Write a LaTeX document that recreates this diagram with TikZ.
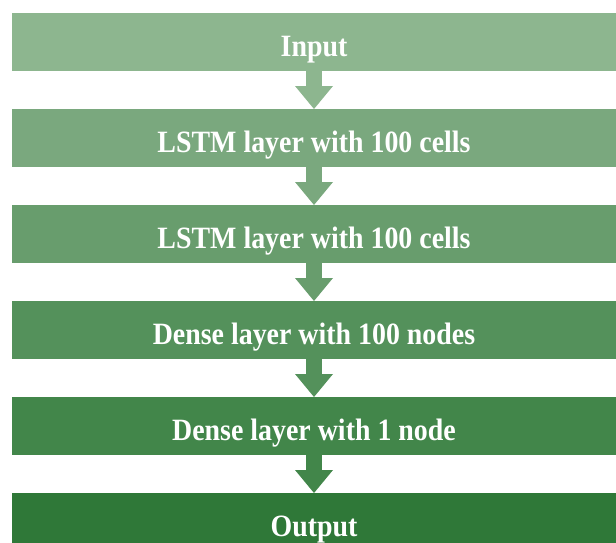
\documentclass[tikz,border=0pt]{standalone}
\usepackage{fontspec}
\setmainfont{Liberation Serif}[FakeStretch=0.9]
\usepackage{tikz}
\usetikzlibrary{
  positioning,
  arrows.meta
}
% 各层颜色（由浅到深）
\definecolor{layA}{RGB}{141,182,143}
\definecolor{layB}{RGB}{122,168,126}
\definecolor{layC}{RGB}{104,157,109}
\definecolor{layD}{RGB}{84,145,91}
\definecolor{layE}{RGB}{66,134,74}
\definecolor{layF}{RGB}{47,120,56}
\tikzset{
  layer/.style={fill=#1, text=white, minimum width=302pt, minimum height=29pt,
    inner sep=0pt, outer sep=0pt, text height=14.8pt, text depth=0pt,
    font=\fontsize{15.5}{18}\selectfont\bfseries},
  flow/.style={draw=#1, line width=8pt,
    -{Triangle[width=19pt,length=11.5pt,line width=0pt]}}
}

\begin{document}
\begin{tikzpicture}[node distance=19pt]
  % 画布范围
  \useasboundingbox (0,0) rectangle (308pt,-271pt);
  \clip (0,0) rectangle (308pt,-271pt);
  % 网络各层
  \node[layer=layA] (inp) at (157pt,-21pt) {Input};
  \node[layer=layB, below=of inp] (lstmA) {LSTM layer with 100 cells};
  \node[layer=layC, below=of lstmA] (lstmB) {LSTM layer with 100 cells};
  \node[layer=layD, below=of lstmB] (denseA) {Dense layer with 100 nodes};
  \node[layer=layE, below=of denseA] (denseB) {Dense layer with 1 node};
  \node[layer=layF, below=of denseB] (outp) {Output};
  % 箭头
  \draw[flow=layA] (inp.south) -- (lstmA.north);
  \draw[flow=layB] (lstmA.south) -- (lstmB.north);
  \draw[flow=layC] (lstmB.south) -- (denseA.north);
  \draw[flow=layD] (denseA.south) -- (denseB.north);
  \draw[flow=layE] (denseB.south) -- (outp.north);
\end{tikzpicture}
\end{document}
